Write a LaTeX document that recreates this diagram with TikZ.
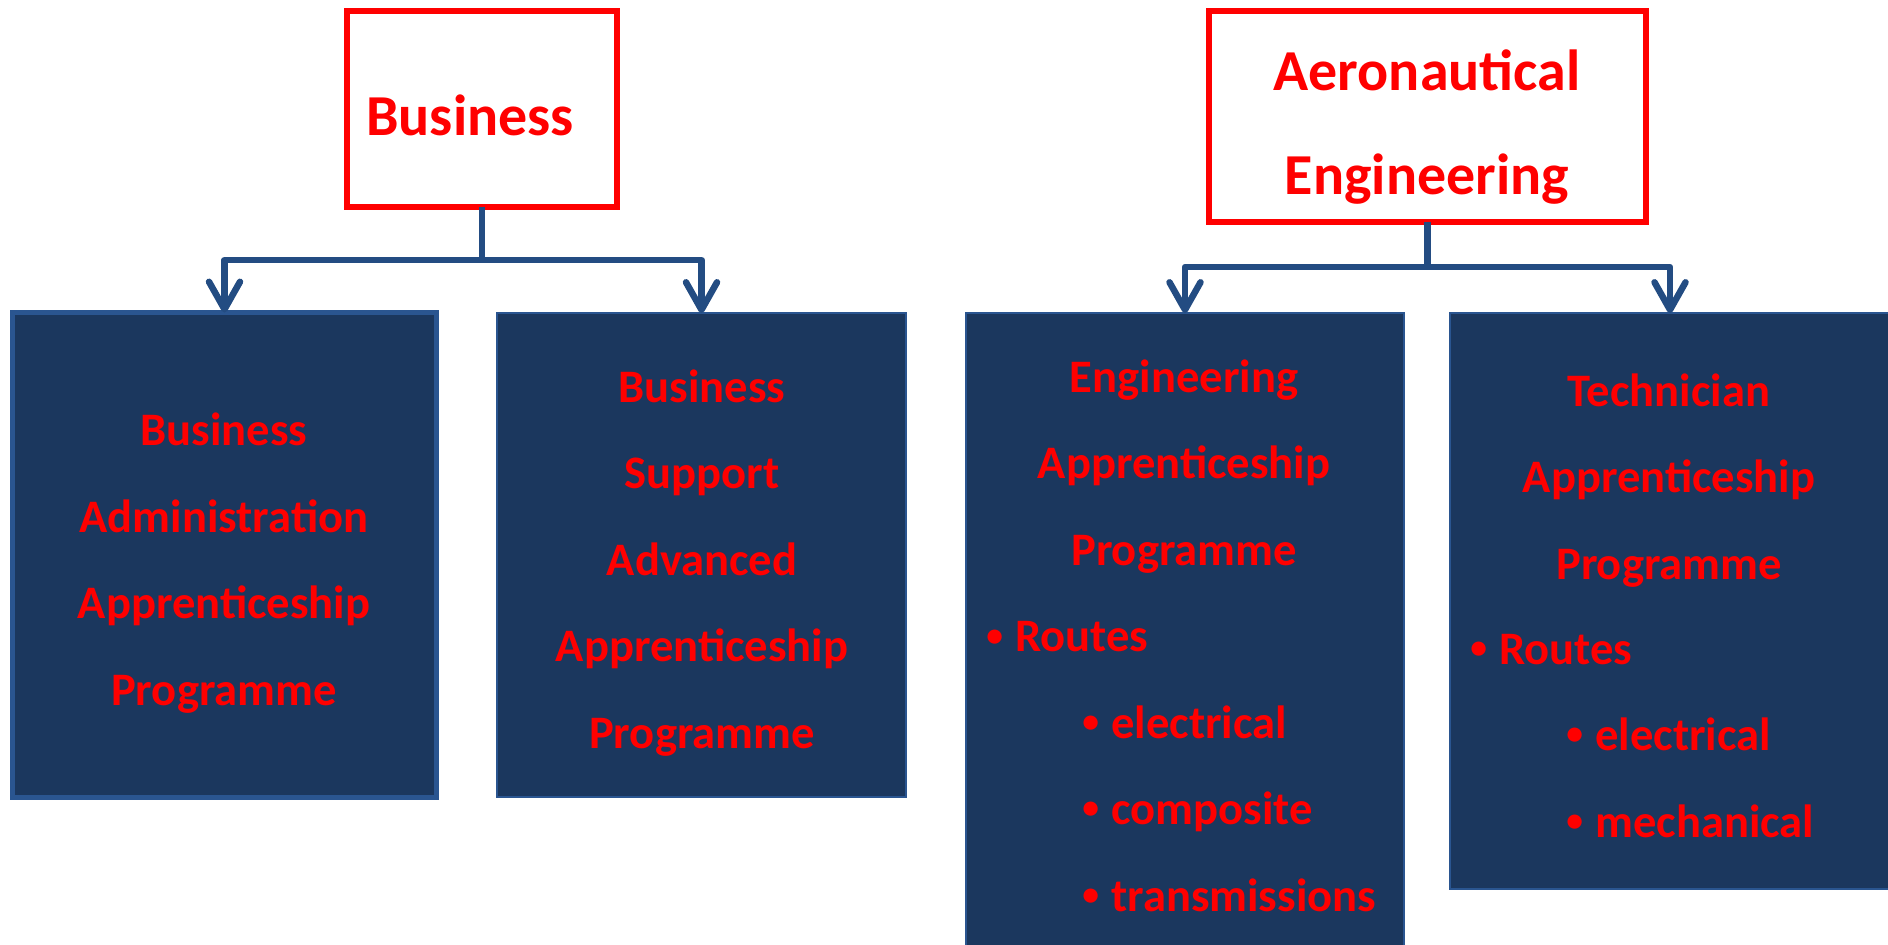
\documentclass[tikz,border=0pt]{standalone}
\usepackage{fontspec}
\setmainfont{Carlito}
\usetikzlibrary{arrows.meta}

\definecolor{boxblue}{HTML}{1B375E}
\definecolor{linkblue}{HTML}{234C82}
\definecolor{edgeblue}{HTML}{2A5590}
\definecolor{textred}{HTML}{FF0000}

\tikzset{
  topbox/.style={draw=textred, line width=3.1pt, fill=white, inner sep=0pt, outer sep=0pt},
  progbox/.style={fill=boxblue, draw=edgeblue, line width=0.8pt, inner sep=0pt, outer sep=0pt},
  toptext/.style={text=textred, font=\fontsize{33}{59.7}\selectfont\bfseries, inner sep=0pt, align=center},
  progtext/.style={text=textred, font=\fontsize{26.5}{49.2}\selectfont\bfseries, inner sep=0pt},
  link/.style={draw=linkblue, line width=3.7pt, line join=round,
    -{Straight Barb[length=0.55cm, width=0.62cm, round]}},
}

\newcommand{\bul}{\makebox[0.58cm][l]{\raisebox{0.12em}{\scalebox{0.72}{•}}}}

\begin{document}
\begin{tikzpicture}[x=0.02cm, y=-0.02cm]
    \useasboundingbox (0,0) rectangle (1888,945);

    % Top boxes
    \node[topbox, minimum width=5.4cm, minimum height=3.92cm] at (482, 109) (bus) {};
    \node[topbox, minimum width=8.74cm, minimum height=4.22cm] at (1427.5, 116.5) (aero) {};
    \node[toptext, anchor=base] at (470, 136) (bustitle) {Business};
    \node[toptext, anchor=base] at (1427, 195) (aerotitle) {Aeronautical\\Engineering};

    % Programme boxes
    \node[progbox, draw=edgeblue, line width=2.85pt, minimum width=8.48cm, minimum height=9.7cm] at (224.5, 555) (admin) {};
    \node[progbox, minimum width=8.18cm, minimum height=9.68cm] at (701.5, 555) (support) {};
    \node[progbox, minimum width=8.76cm, minimum height=12.84cm] at (1185, 634) (eng) {};
    \node[progbox, minimum width=8.8cm, minimum height=11.52cm] at (1670, 601) (tech) {};

    % Texts (base = last line)
    \node[progtext, align=center, anchor=base] at (224, 705) (admintext)
        {Business\\Administration\\Apprenticeship\\Programme};
    \node[progtext, align=center, anchor=base] at (702, 748) (supporttext)
        {Business\\Support\\Advanced\\Apprenticeship\\Programme};
    \node[progtext, align=center, anchor=base] at (1184, 565) (engtext)
        {Engineering\\Apprenticeship\\Programme};
    \node[progtext, align=left, anchor=base west] at (986, 911) (engroutes)
        {\bul Routes\\\hspace*{1.92cm}\bul electrical\\\hspace*{1.92cm}\bul composite\\\hspace*{1.92cm}\bul transmissions};
    \node[progtext, align=center, anchor=base] at (1669, 579) (techtext)
        {Technician\\Apprenticeship\\Programme};
    \node[progtext, align=left, anchor=base west] at (1470, 837) (techroutes)
        {\bul Routes\\\hspace*{1.92cm}\bul electrical\\\hspace*{1.92cm}\bul mechanical};

    % Arrows
    \draw[link] (bus.south) -- ++(0, 53) -| (admin.north);
    \draw[link] (bus.south) -- ++(0, 53) -| (support.north);
    \draw[link] (aero.south) -- ++(0, 45) -| (eng.north);
    \draw[link] (aero.south) -- ++(0, 45) -| (tech.north);

\end{tikzpicture}
\end{document}
